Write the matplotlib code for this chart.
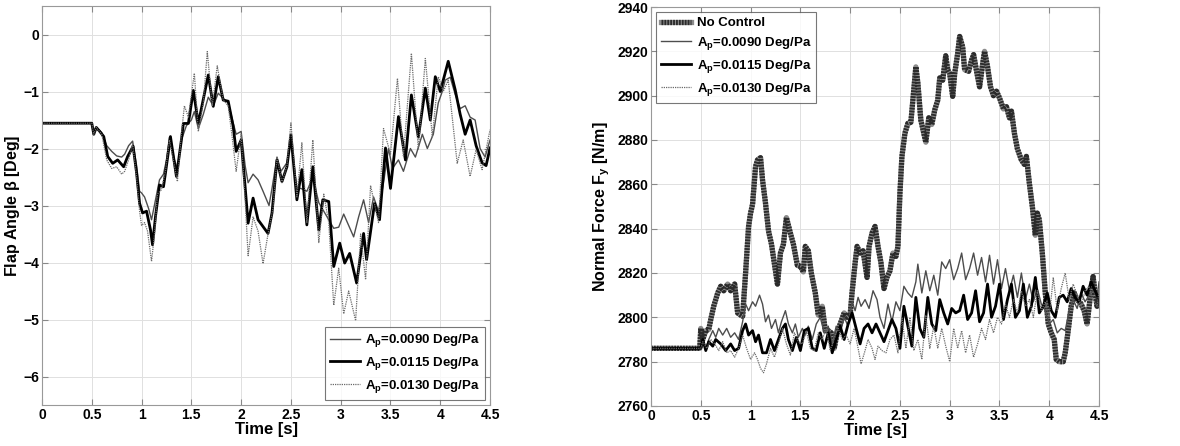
import matplotlib
matplotlib.use("Agg")
import matplotlib.pyplot as plt
from matplotlib.legend_handler import HandlerTuple
import numpy as np

plt.rcParams["font.family"] = ["Liberation Sans", "DejaVu Sans"]
plt.rcParams["font.weight"] = "bold"
plt.rcParams["mathtext.fontset"] = "custom"
plt.rcParams["mathtext.rm"] = "Liberation Sans:bold"
plt.rcParams["mathtext.bf"] = "Liberation Sans:bold"
plt.rcParams["mathtext.it"] = "Liberation Sans:bold"

# ---- flap angle (left panel) ----
flap_t_090 = [0, 0.5, 0.52, 0.545, 0.6, 0.65, 0.7, 0.75, 0.8, 0.83, 0.87, 0.91, 0.95, 0.98,
              1.0, 1.03, 1.07, 1.1, 1.14, 1.18, 1.22, 1.25, 1.28, 1.33, 1.36, 1.4, 1.45, 1.5,
              1.53, 1.57, 1.62, 1.67, 1.72, 1.77, 1.82, 1.87, 1.92, 1.95, 2.0, 2.04, 2.07, 2.12,
              2.17, 2.22, 2.28, 2.31, 2.36, 2.4, 2.46, 2.5, 2.56, 2.6, 2.66, 2.72, 2.78, 2.83,
              2.88, 2.93, 2.98, 3.03, 3.08, 3.13, 3.18, 3.23, 3.28, 3.33, 3.38, 3.43, 3.48, 3.52,
              3.58, 3.63, 3.7, 3.75, 3.82, 3.87, 3.93, 3.98, 4.02, 4.05, 4.1, 4.15, 4.2, 4.25,
              4.3, 4.35, 4.4, 4.45, 4.5]
flap_v_090 = [-1.556, -1.556, -1.73, -1.63, -1.72, -1.95, -2.05, -2.13, -2.15, -2.1, -1.95, -1.87,
              -2.3, -2.75, -2.78, -2.85, -3.05, -3.25, -2.9, -2.55, -2.45, -2.2, -1.8, -2.2, -2.35,
              -1.85, -1.6, -1.5, -1.35, -1.65, -1.4, -1.1, -1.25, -1.03, -1.12, -1.2, -1.55, -1.75,
              -1.7, -2.3, -2.6, -2.45, -2.55, -2.75, -3.0, -2.7, -2.15, -2.4, -2.25, -1.85, -2.7,
              -2.7, -2.75, -2.5, -2.95, -3.1, -3.25, -3.4, -3.38, -3.15, -3.35, -3.55, -3.2, -2.9,
              -3.3, -2.85, -3.1, -2.6, -2.0, -2.35, -2.2, -2.4, -2.0, -2.15, -1.75, -2.0, -1.75,
              -1.2, -1.0, -0.8, -0.75, -1.05, -1.3, -1.25, -1.45, -1.5, -2.0, -2.15, -1.85]

flap_t_115 = [0, 0.5, 0.52, 0.545, 0.58, 0.62, 0.66, 0.71, 0.76, 0.82, 0.86, 0.915, 0.95, 0.98,
              1.01, 1.05, 1.09, 1.11, 1.14, 1.18, 1.22, 1.24, 1.29, 1.35, 1.40, 1.42, 1.47, 1.52,
              1.57, 1.67, 1.72, 1.77, 1.82, 1.87, 1.92, 1.95, 2.0, 2.04, 2.07, 2.12, 2.17, 2.22,
              2.27, 2.31, 2.36, 2.41, 2.46, 2.5, 2.56, 2.61, 2.66, 2.72, 2.78, 2.82, 2.88, 2.93,
              2.99, 3.04, 3.09, 3.16, 3.23, 3.26, 3.34, 3.39, 3.45, 3.5, 3.58, 3.65, 3.71, 3.78,
              3.85, 3.9, 3.95, 4.0, 4.08, 4.15, 4.2, 4.25, 4.3, 4.36, 4.42, 4.46, 4.5]
flap_v_115 = [-1.556, -1.556, -1.75, -1.63, -1.70, -1.79, -2.14, -2.26, -2.2, -2.32, -2.14, -1.96,
              -2.43, -2.96, -3.13, -3.1, -3.43, -3.69, -3.19, -2.64, -2.67, -2.43, -1.79, -2.49,
              -1.85, -1.56, -1.56, -0.98, -1.56, -0.71, -1.26, -0.74, -1.15, -1.17, -1.61, -2.05,
              -1.85, -2.67, -3.31, -2.87, -3.25, -3.37, -3.49, -3.13, -2.2, -2.58, -2.32, -1.76,
              -2.9, -2.37, -3.34, -2.32, -3.43, -2.9, -2.93, -4.07, -3.66, -4.01, -3.84, -4.36,
              -3.49, -3.95, -2.96, -3.25, -1.99, -2.70, -1.44, -2.2, -1.06, -1.8, -0.94, -1.5,
              -0.74, -1.0, -0.47, -0.97, -1.4, -1.75, -1.5, -1.95, -2.25, -2.3, -1.99]

flap_t_130 = [0, 0.5, 0.52, 0.545, 0.6, 0.65, 0.7, 0.75, 0.8, 0.83, 0.87, 0.91, 0.95, 0.98,
              1.0, 1.03, 1.06, 1.1, 1.13, 1.16, 1.2, 1.24, 1.28, 1.33, 1.36, 1.4, 1.43, 1.47,
              1.53, 1.57, 1.62, 1.66, 1.71, 1.76, 1.82, 1.87, 1.91, 1.95, 2.0, 2.04, 2.07, 2.12,
              2.17, 2.22, 2.27, 2.32, 2.36, 2.41, 2.46, 2.5, 2.56, 2.61, 2.66, 2.72, 2.78, 2.83,
              2.88, 2.93, 2.98, 3.03, 3.08, 3.15, 3.2, 3.25, 3.3, 3.38, 3.43, 3.5, 3.57, 3.63,
              3.71, 3.78, 3.85, 3.92, 3.98, 4.03, 4.08, 4.17, 4.23, 4.3, 4.36, 4.42, 4.5]
flap_v_130 = [-1.556, -1.556, -1.75, -1.63, -1.75, -2.2, -2.35, -2.32, -2.45, -2.4, -2.2, -1.92,
              -2.5, -3.1, -3.35, -3.3, -3.45, -3.98, -3.5, -2.8, -2.72, -2.4, -1.85, -2.3, -2.58,
              -1.75, -1.25, -1.45, -0.68, -1.7, -1.2, -0.3, -1.25, -0.55, -1.15, -1.25, -1.8,
              -2.4, -1.75, -2.9, -3.88, -3.2, -3.45, -4.02, -3.5, -3.05, -2.15, -2.6, -2.3, -1.55,
              -2.85, -1.9, -3.3, -1.85, -3.65, -2.8, -3.3, -4.75, -4.1, -4.9, -4.5, -5.02, -3.5,
              -4.3, -2.65, -3.3, -1.65, -2.1, -0.77, -2.14, -0.33, -2.02, -0.42, -1.79, -0.74,
              -1.0, -0.8, -2.26, -1.85, -2.49, -2.02, -2.37, -1.67]

# ---- normal force (right panel) ----
force_t_nc = [0, 0.49, 0.5, 0.52, 0.55, 0.58, 0.6, 0.63, 0.67, 0.7, 0.73, 0.77, 0.8, 0.84, 0.87,
              0.9, 0.92, 0.95, 0.98, 1.0, 1.02, 1.05, 1.07, 1.1, 1.12, 1.15, 1.18, 1.21, 1.25,
              1.27, 1.3, 1.33, 1.36, 1.4, 1.43, 1.47, 1.5, 1.53, 1.55, 1.58, 1.61, 1.65, 1.68,
              1.7, 1.72, 1.75, 1.78, 1.81, 1.84, 1.87, 1.9, 1.94, 1.97, 2.0, 2.02, 2.05, 2.07,
              2.1, 2.13, 2.15, 2.17, 2.19, 2.22, 2.25, 2.28, 2.31, 2.34, 2.37, 2.4, 2.43, 2.46,
              2.48, 2.5, 2.52, 2.55, 2.58, 2.61, 2.63, 2.66, 2.68, 2.71, 2.74, 2.76, 2.79, 2.82,
              2.85, 2.88, 2.9, 2.93, 2.96, 2.98, 3.0, 3.03, 3.05, 3.08, 3.1, 3.13, 3.15, 3.19,
              3.22, 3.24, 3.27, 3.3, 3.33, 3.35, 3.38, 3.41, 3.44, 3.47, 3.5, 3.54, 3.57, 3.6,
              3.62, 3.65, 3.68, 3.72, 3.75, 3.77, 3.8, 3.83, 3.86, 3.88, 3.9, 3.93, 3.96, 3.99,
              4.02, 4.05, 4.07, 4.1, 4.14, 4.16, 4.19, 4.22, 4.25, 4.28, 4.32, 4.35, 4.38, 4.41,
              4.44, 4.46, 4.48, 4.5]
force_v_nc = [2786, 2786, 2795, 2790, 2794, 2794.5, 2799, 2805, 2811, 2814, 2812, 2815, 2812,
              2815, 2802, 2801, 2800.5, 2820, 2841, 2847, 2851, 2868, 2871, 2872, 2862, 2851.5,
              2839, 2833, 2821, 2815, 2829, 2833, 2845, 2838, 2833, 2823.5, 2823, 2820.5, 2832,
              2830, 2820, 2811, 2801, 2801, 2805, 2794, 2794, 2793, 2786, 2793, 2797, 2802, 2800,
              2801, 2811.5, 2824.5, 2832, 2829, 2830, 2824, 2818, 2832, 2838, 2841, 2832, 2824.5,
              2813, 2818, 2821, 2829, 2827.5, 2832, 2856, 2872.5, 2883, 2887.5, 2888, 2898, 2913,
              2905.7, 2889, 2883, 2879, 2890, 2887, 2893.6, 2898, 2908, 2907, 2918, 2911.7, 2910,
              2899.7, 2910, 2919, 2926.7, 2922, 2911.7, 2911, 2916, 2918.5, 2911, 2904, 2914, 2920,
              2913, 2904, 2900, 2902, 2899, 2894, 2895, 2890, 2893, 2883, 2876, 2871, 2869, 2872.6,
              2860.5, 2850, 2837, 2847, 2844, 2829, 2811, 2797, 2793, 2790, 2781, 2780, 2780, 2784,
              2794, 2805, 2811, 2808, 2806, 2803, 2797, 2808.6, 2818.4, 2811, 2805, 2811]

force_t_090 = [0, 0.5, 0.52, 0.55, 0.58, 0.62, 0.65, 0.68, 0.72, 0.76, 0.8, 0.84, 0.88, 0.92,
               0.95, 0.98, 1.02, 1.05, 1.09, 1.12, 1.15, 1.18, 1.21, 1.25, 1.28, 1.31, 1.35, 1.38,
               1.42, 1.45, 1.48, 1.52, 1.55, 1.58, 1.62, 1.66, 1.7, 1.74, 1.78, 1.82, 1.86, 1.9,
               1.94, 1.98, 2.02, 2.05, 2.08, 2.11, 2.15, 2.19, 2.23, 2.27, 2.3, 2.34, 2.38, 2.42,
               2.46, 2.5, 2.54, 2.58, 2.62, 2.66, 2.68, 2.72, 2.76, 2.8, 2.84, 2.88, 2.92, 2.96,
               3.0, 3.04, 3.08, 3.12, 3.16, 3.2, 3.24, 3.28, 3.32, 3.36, 3.4, 3.44, 3.48, 3.52,
               3.56, 3.6, 3.64, 3.68, 3.72, 3.76, 3.8, 3.84, 3.88, 3.92, 3.96, 4.0, 4.04, 4.08,
               4.12, 4.16, 4.2, 4.24, 4.28, 4.32, 4.36, 4.4, 4.44, 4.48, 4.5]
force_v_090 = [2786, 2786, 2790, 2786, 2790, 2794, 2791, 2795, 2792, 2795, 2791, 2793, 2790, 2798,
               2806, 2803, 2807, 2805, 2810, 2806, 2798, 2801, 2795, 2799, 2793, 2798, 2803, 2797,
               2793, 2797, 2791, 2795, 2792, 2796, 2790, 2797, 2800, 2793, 2796, 2788, 2796, 2793,
               2800, 2796, 2807, 2803, 2809, 2805, 2808, 2804, 2812, 2808, 2800, 2795, 2806, 2798,
               2807, 2803, 2814, 2811, 2809, 2816, 2824, 2811, 2821, 2812, 2819, 2810, 2825, 2822,
               2826, 2817, 2822, 2829, 2817, 2822, 2829, 2819, 2827, 2816, 2828, 2815, 2826, 2813,
               2822, 2812, 2819, 2809, 2820, 2808, 2815, 2807, 2813, 2806, 2803, 2797, 2799, 2793,
               2795, 2794, 2803, 2808, 2804, 2811, 2807, 2810, 2812, 2809, 2816]

force_t_115 = [0, 0.5, 0.52, 0.55, 0.58, 0.62, 0.65, 0.7, 0.75, 0.8, 0.84, 0.88, 0.92, 0.95,
               0.98, 1.02, 1.05, 1.08, 1.12, 1.16, 1.2, 1.24, 1.28, 1.32, 1.35, 1.38, 1.42, 1.46,
               1.5, 1.54, 1.58, 1.62, 1.66, 1.7, 1.74, 1.78, 1.82, 1.86, 1.9, 1.94, 1.98, 2.02,
               2.06, 2.1, 2.14, 2.18, 2.22, 2.26, 2.3, 2.34, 2.38, 2.42, 2.46, 2.5, 2.54, 2.58,
               2.62, 2.66, 2.7, 2.74, 2.78, 2.82, 2.86, 2.9, 2.94, 2.98, 3.02, 3.06, 3.1, 3.14,
               3.18, 3.22, 3.26, 3.3, 3.34, 3.38, 3.42, 3.46, 3.5, 3.54, 3.58, 3.62, 3.66, 3.7,
               3.74, 3.78, 3.82, 3.86, 3.9, 3.94, 3.98, 4.02, 4.06, 4.1, 4.14, 4.18, 4.22, 4.26,
               4.3, 4.34, 4.38, 4.42, 4.46, 4.5]
force_v_115 = [2786, 2786, 2790, 2785, 2789, 2787, 2790, 2788, 2785, 2788, 2785, 2786, 2794, 2797,
               2792, 2794, 2789, 2792, 2784, 2784, 2790, 2785, 2790, 2795, 2797, 2790, 2785, 2791,
               2785, 2794, 2795, 2786, 2785, 2793, 2786, 2793, 2784, 2790, 2796, 2790, 2797, 2802,
               2795, 2788, 2795, 2797, 2793, 2797, 2793, 2789, 2794, 2799, 2795, 2786, 2805, 2796,
               2787, 2809, 2795, 2791, 2809, 2797, 2794, 2808, 2802, 2797, 2804, 2802, 2803, 2810,
               2799, 2802, 2812, 2798, 2802, 2815, 2800, 2805, 2815, 2799, 2808, 2815, 2800, 2803,
               2815, 2800, 2805, 2818, 2802, 2805, 2811, 2803, 2800, 2809, 2810, 2807, 2813, 2809,
               2807, 2814, 2810, 2816, 2812, 2808]

force_t_130 = [0, 0.5, 0.52, 0.56, 0.6, 0.64, 0.68, 0.72, 0.76, 0.8, 0.84, 0.88, 0.92, 0.96,
               1.0, 1.04, 1.07, 1.1, 1.13, 1.16, 1.2, 1.24, 1.28, 1.32, 1.36, 1.4, 1.44, 1.48,
               1.52, 1.56, 1.6, 1.64, 1.68, 1.72, 1.76, 1.8, 1.84, 1.88, 1.92, 1.96, 2.0, 2.04,
               2.08, 2.11, 2.15, 2.18, 2.22, 2.25, 2.28, 2.32, 2.36, 2.4, 2.44, 2.48, 2.52, 2.56,
               2.6, 2.64, 2.68, 2.72, 2.76, 2.8, 2.84, 2.88, 2.92, 2.96, 3.0, 3.04, 3.08, 3.12,
               3.16, 3.2, 3.24, 3.28, 3.32, 3.36, 3.4, 3.44, 3.48, 3.52, 3.56, 3.6, 3.64, 3.68,
               3.72, 3.76, 3.8, 3.84, 3.88, 3.92, 3.96, 4.0, 4.04, 4.08, 4.12, 4.16, 4.2, 4.24,
               4.28, 4.32, 4.36, 4.4, 4.44, 4.48, 4.5]
force_v_130 = [2786, 2786, 2789, 2786, 2790, 2788, 2785, 2789, 2784, 2785, 2782, 2786, 2792, 2786,
               2781, 2784, 2781, 2777, 2775, 2779, 2786, 2782, 2788, 2795, 2788, 2783, 2793, 2789,
               2788, 2794, 2786, 2785, 2793, 2790, 2795, 2785, 2791, 2795, 2790, 2792, 2788, 2795,
               2786, 2779, 2785, 2790, 2786, 2781, 2787, 2785, 2784, 2790, 2792, 2784, 2800, 2786,
               2800, 2785, 2790, 2781, 2801, 2786, 2796, 2786, 2795, 2787, 2780, 2795, 2786, 2794,
               2784, 2792, 2782, 2788, 2795, 2790, 2799, 2793, 2800, 2797, 2806, 2800, 2808, 2802,
               2812, 2805, 2808, 2800, 2812, 2803, 2807, 2800, 2818, 2803, 2813, 2820, 2808, 2815,
               2810, 2805, 2812, 2814, 2808, 2805, 2812]

legend_labels = [r"$\mathbf{A_p}$=0.0090 Deg/Pa", r"$\mathbf{A_p}$=0.0115 Deg/Pa",
                 r"$\mathbf{A_p}$=0.0130 Deg/Pa"]

STYLE_090 = dict(color="#4d4d4d", lw=1.0, ls="-")
STYLE_115 = dict(color="black", lw=2.0, ls="-")
STYLE_130 = dict(color="#6a6a6a", lw=0.9, ls=(0, (1, 0.8)))


def style_axes(ax):
    ax.grid(True, color="#e0e0e0", lw=0.7)
    ax.set_axisbelow(True)
    ax.tick_params(direction="in", top=True, right=True, labelsize=10, length=4,
                   color="#888888", pad=2)
    for s in ax.spines.values():
        s.set_color("#999999")
    ax.set_xlim(0, 4.5)
    ax.set_xticks(np.arange(0, 4.51, 0.5))
    ax.set_xticklabels(["0", "0.5", "1", "1.5", "2", "2.5", "3", "3.5", "4", "4.5"])
    ax.set_xlabel("Time [s]", fontsize=12, fontweight="bold", labelpad=0)


def make_legend(ax, handles, labels, loc):
    leg = ax.legend(handles, labels, loc=loc, fontsize=9.5, frameon=True, fancybox=False,
                    edgecolor="#555555", borderaxespad=0.35, handlelength=2.3,
                    handletextpad=0.4, labelspacing=0.45, borderpad=0.4,
                    handler_map={tuple: HandlerTuple(ndivide=1)})
    leg.get_frame().set_linewidth(0.8)
    return leg


fig = plt.figure(figsize=(11.8, 4.46), dpi=100)
ax1 = fig.add_axes([0.0356, 0.0919, 0.3797, 0.8946])
ax2 = fig.add_axes([0.5517, 0.0897, 0.3797, 0.8946])

h1, = ax1.plot(flap_t_090, flap_v_090, **STYLE_090)
h2, = ax1.plot(flap_t_115, flap_v_115, **STYLE_115)
h3, = ax1.plot(flap_t_130, flap_v_130, **STYLE_130)
style_axes(ax1)
ax1.set_ylim(-6.5, 0.5)
ax1.set_yticks(np.arange(-6, 0.1, 1))
ax1.set_ylabel(r"Flap Angle $\mathbf{\beta}$ [Deg]", fontsize=11.5, fontweight="bold", labelpad=1)
make_legend(ax1, [h1, h2, h3], legend_labels, "lower right")

# no-control curve: gray body with dark stipple, like the dense-marker original
nc_under, = ax2.plot(force_t_nc, force_v_nc, color="#8c8c8c", lw=3.8, solid_joinstyle="round")
nc_over, = ax2.plot(force_t_nc, force_v_nc, color="#2b2b2b", lw=3.8, ls=(0, (0.35, 0.2)))
g1, = ax2.plot(force_t_090, force_v_090, **STYLE_090)
g2, = ax2.plot(force_t_115, force_v_115, **STYLE_115)
g3, = ax2.plot(force_t_130, force_v_130, **STYLE_130)
style_axes(ax2)
ax2.set_ylim(2760, 2940)
ax2.set_yticks(np.arange(2760, 2941, 20))
ax2.set_ylabel(r"Normal Force F$_\mathbf{y}$ [N/m]", fontsize=11.5, fontweight="bold", labelpad=4)
make_legend(ax2, [(nc_under, nc_over), g1, g2, g3], ["No Control"] + legend_labels, "upper left")

fig.savefig("out.png", dpi=100)
